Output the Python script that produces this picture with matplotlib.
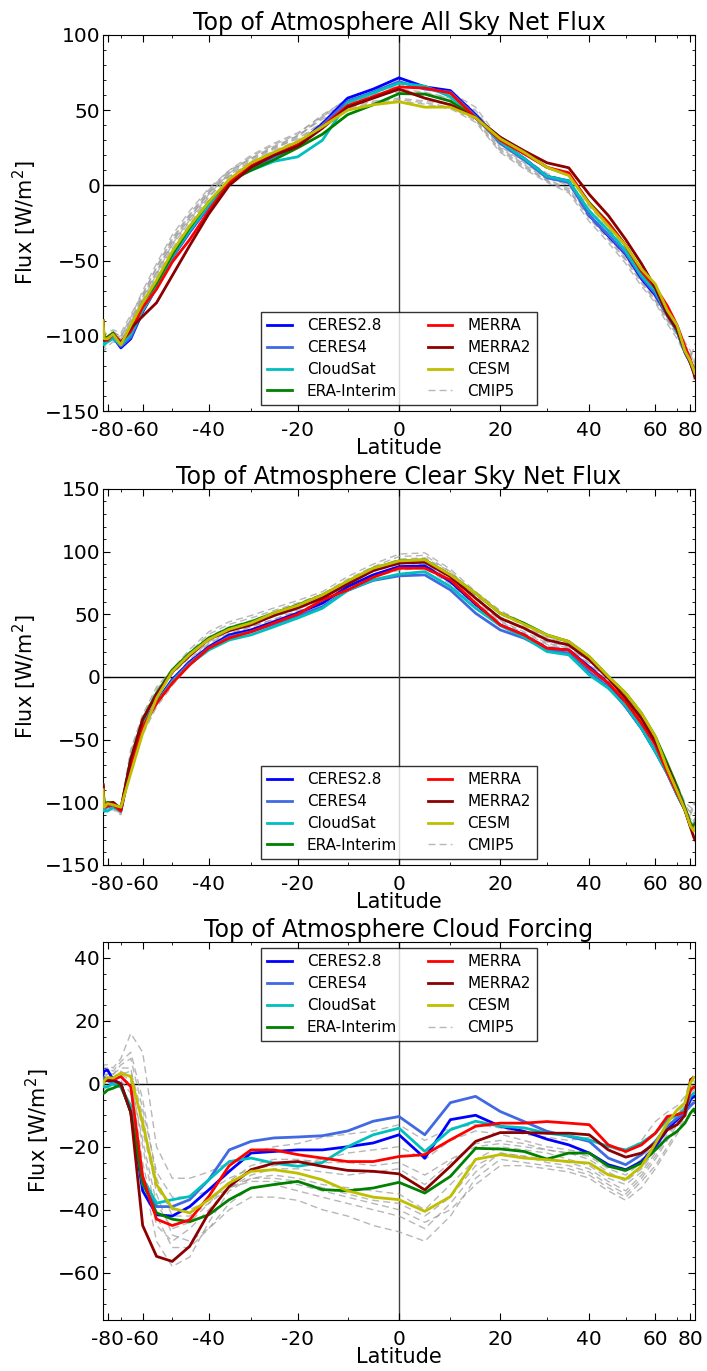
import numpy as np
import matplotlib
matplotlib.use("Agg")
import matplotlib.pyplot as plt

lat = [-89, -85, -80, -75, -70, -65, -60, -55, -50, -45, -40, -35, -30, -25, -20, -15, -10, -5, 0,
       5, 10, 15, 20, 25, 30, 35, 40, 45, 50, 55, 60, 65, 70, 75, 80, 85, 89]

names = ['CERES2.8', 'CERES4', 'CloudSat', 'ERA-Interim', 'MERRA', 'MERRA2', 'CESM']
colors = ['b', 'royalblue', 'c', 'g', 'r', 'darkred', 'y']

# ---- TOA all sky net flux
all_ceres28 = [-92, -104, -103, -101, -108, -102, -84, -68, -48, -31, -14, 3, 11, 20, 27, 41, 58, 64, 71.5,
               65.5, 63, 47, 29, 18, 6, 3, -20, -33.6, -45.7, -62, -73, -86, -97, -111, -118, -124, -126]
all_ceres4 = [-93, -104, -103, -101, -107, -101, -83, -67, -48, -31, -14, 3, 11, 19, 26, 40, 56, 62, 69,
              64, 62, 46, 28, 17, 5, 2, -20, -33, -45, -61, -72, -86, -97, -111, -118, -124, -126]
all_cloudsat = [-95, -106, -104, -102, -106, -99, -83, -68, -47, -30, -13, 3, 10, 16, 19, 30, 55, 61.4, 68,
                66, 59, 45, 29, 18, 6, 3, -17, -30, -43.5, -60, -70, -86, -97, -110, -117, -123, -126]
all_era = [-90, -102, -101, -98, -105, -95, -78, -65, -46, -28, -11, 3, 10, 17, 25, 34, 47, 53.6, 61,
           60.7, 56, 45, 32, 22, 12, 7, -11.5, -24.7, -40, -57, -68, -85, -96, -110, -117, -123, -125]
all_merra = [-90, -103, -103, -99, -104, -97, -81, -69, -51, -36, -17, 2, 13, 20.5, 27, 39, 53, 59, 65.4,
             64.7, 61.4, 45, 30, 21, 12, 8.4, -12, -25, -40, -57, -67.8, -80, -93, -107, -116, -123, -126]
all_merra2 = [-90, -103, -102, -99, -105, -95, -87, -78, -60, -40, -19, 0, 12, 20, 26, 38, 52, 58, 64,
              58, 53.6, 45, 32, 23, 15, 11.7, -6, -20, -36, -52, -68, -86, -96, -110, -118, -125, -128]
all_cesm = [-90, -102, -102, -99, -106, -93, -78, -63, -44, -27, -11, 4, 15, 22, 29, 39, 50, 53.6, 55.6,
            52, 52, 45, 31, 22, 12, 6.6, -12.3, -27, -40, -55.6, -65.6, -83, -93, -110, -117, -123, -125]
all_cmip5 = [
    [-100, -105, -103, -100, -103, -92, -75, -58, -38, -22, -5, 8, 17, 25, 33, 45, 56, 62, 66,
     64, 60, 50, 28, 16, 6, 1, -16, -30, -45, -60, -72, -86, -96, -106, -112, -118, -120],
    [-105, -108, -105, -102, -100, -88, -70, -52, -33, -17, -2, 10, 20, 28, 35, 46, 55, 60, 62,
     60, 57, 46, 25, 14, 4, -2, -20, -34, -48, -63, -75, -88, -98, -108, -115, -120, -122],
    [-98, -100, -98, -96, -98, -86, -72, -55, -36, -20, -4, 9, 18, 26, 33, 44, 52, 56, 58,
     56, 54, 44, 24, 13, 3, -3, -22, -36, -50, -65, -77, -90, -100, -110, -118, -123, -124],
    [-103, -106, -104, -100, -104, -94, -80, -62, -42, -26, -8, 6, 15, 23, 30, 42, 54, 60, 64,
     62, 58, 48, 26, 15, 5, 0, -18, -32, -47, -62, -74, -88, -98, -108, -114, -108, -105],
    [-95, -102, -100, -97, -101, -90, -74, -57, -37, -21, -5, 7, 16, 24, 32, 46, 58, 64, 67,
     65, 62, 52, 30, 18, 8, 2, -14, -28, -42, -58, -70, -84, -94, -104, -110, -115, -118],
    [-108, -110, -107, -104, -106, -95, -78, -60, -40, -24, -7, 6, 14, 21, 28, 40, 50, 54, 56,
     54, 51, 42, 22, 11, 2, -5, -24, -38, -52, -67, -78, -92, -102, -112, -120, -125, -126],
    [-100, -103, -101, -99, -102, -91, -76, -59, -39, -23, -6, 8, 19, 27, 34, 47, 57, 61, 63,
     61, 58, 49, 27, 16, 7, 1, -17, -31, -46, -61, -73, -87, -97, -107, -113, -117, -119],
    [-97, -104, -102, -98, -100, -89, -73, -54, -35, -19, -3, 10, 18, 25, 31, 42, 51, 55, 57,
     55, 52, 43, 23, 12, 3, -4, -21, -35, -49, -64, -76, -89, -99, -109, -116, -121, -123],
]

# ---- TOA clear sky net flux
clr_ceres28 = [-87, -105, -102, -103, -106, -68, -38, -20, -2, 12, 24, 33.5, 37.5, 44, 51, 58.8, 72, 81.4, 88,
               88.6, 76, 58, 41.5, 33.5, 22.9, 21.5, 8, -5, -23.7, -41, -59.6, -77, -94, -106, -119, -122, -118]
clr_ceres4 = [-88, -106, -103, -104, -107, -69, -39, -21, -3, 11, 23, 32, 36, 42, 49, 56, 69, 77, 80.6,
              81.4, 69.4, 50.8, 37.5, 30.9, 21.5, 19, 4, -8, -24, -41, -59, -77, -94, -106, -119, -122, -118]
clr_cloudsat = [-90, -107, -107, -104, -107, -68, -38, -21, -4, 10, 21.5, 29.5, 33.5, 40, 47, 54.8, 69, 77.4, 82,
                84, 72, 54.8, 41, 31.8, 20.2, 17.6, 1.6, -9, -23, -41, -59.6, -77, -94, -106, -119, -122, -118]
clr_era = [-86, -102, -100, -101, -106, -66, -34, -13, 5.6, 19, 31, 39, 44, 51, 57.4, 65.4, 76, 86.7, 92.5,
           93.4, 81.4, 66.8, 50.8, 42.8, 33.5, 28.2, 16.2, 0.3, -13, -29, -47.6, -69, -87.5, -104, -117, -120, -117]
clr_merra = [-88, -104, -103, -102, -107, -70, -40, -21, -5, 9.6, 23, 31, 36, 43, 50, 61.4, 69.4, 79.5, 86.7,
             86.7, 77.4, 58.8, 41.5, 33.5, 22.9, 21.5, 6.9, -5, -20, -37, -54, -76, -93, -106, -119, -122, -120]
clr_merra2 = [-86, -103, -101, -100, -105, -66, -34, -14, 4, 17, 30, 37, 41.5, 49, 55, 63, 74, 84.8, 90.7,
              91.5, 80, 62.8, 46.8, 38.9, 29.5, 25.5, 13.6, -1, -17, -33, -51.6, -71, -90, -106, -120, -128, -130]
clr_cesm = [-90, -104, -101, -102, -104, -77, -45, -17, 4.3, 18, 30, 38, 43, 51, 57, 65.4, 76.5, 86.7, 92.5,
            93.4, 81.4, 66.8, 50.8, 42, 33.5, 28.2, 16.2, 0.3, -13, -29, -47.6, -73, -91, -106, -119, -123, -120]
clr_cmip5 = [
    [-98, -104, -102, -103, -106, -62, -33, -12, 4, 18, 32, 40, 45, 51, 57, 64, 76, 86, 94,
     95, 84, 66, 50, 41, 31, 27, 14, -1, -16, -32, -50, -70, -88, -102, -108, -110, -108],
    [-102, -106, -104, -104, -108, -72, -44, -22, -5, 11, 26, 34, 40, 46, 53, 60, 72, 82, 88,
     90, 78, 60, 45, 36, 27, 23, 8, -6, -22, -38, -56, -76, -92, -106, -112, -115, -112],
    [-95, -100, -99, -100, -103, -58, -30, -8, 6, 22, 36, 44, 49, 55, 61, 68, 80, 90, 98,
     99, 86, 68, 53, 43, 34, 29, 16, 1, -14, -30, -48, -69, -86, -100, -104, -106, -104],
    [-100, -107, -105, -105, -109, -75, -46, -24, -7, 10, 25, 33, 38, 45, 51, 58, 71, 80, 85,
     87, 74, 56, 42, 33, 25, 21, 5, -8, -24, -40, -58, -78, -94, -107, -115, -118, -115],
    [-97, -103, -101, -102, -105, -65, -36, -15, 2, 16, 30, 38, 43, 49, 56, 63, 75, 85, 91,
     92, 81, 63, 48, 39, 29, 25, 11, -3, -18, -34, -52, -72, -90, -104, -110, -104, -100],
    [-104, -108, -106, -106, -110, -70, -40, -18, -2, 14, 28, 36, 42, 48, 54, 62, 74, 84, 90,
     93, 82, 64, 47, 38, 28, 24, 10, -4, -19, -35, -53, -73, -90, -104, -114, -117, -114],
    [-99, -105, -103, -101, -107, -60, -32, -10, 5, 20, 34, 42, 47, 53, 59, 66, 78, 88, 96,
     97, 84, 65, 51, 42, 32, 28, 15, 0, -15, -31, -49, -70, -88, -103, -108, -100, -102],
    [-101, -106, -104, -104, -106, -68, -42, -20, -3, 13, 27, 35, 40, 46, 52, 59, 72, 81, 86,
     88, 76, 58, 44, 35, 26, 22, 7, -7, -23, -39, -57, -77, -93, -106, -113, -116, -113],
]

# ---- TOA cloud forcing
cf_ceres28 = [3, 4, 4.4, 1.3, 0, -9, -34, -41.6, -42, -39, -33.7, -27.8, -22, -21.5, -21, -21, -20, -18.8, -16.2,
              -23.6, -11.4, -10, -13.5, -15.1, -17.6, -19.4, -22, -25.7, -27.3, -24.7, -19.9, -14.6, -11.4, -9, -5, -4, -4]
cf_ceres4 = [1, 2, 1, 0, -1, -8, -32, -39, -39, -36.8, -30.5, -21, -18.3, -17.2, -16.9, -16.5, -15, -11.9, -10.4,
             -16.2, -6, -4, -8.8, -12, -15.1, -16.7, -18.3, -23.6, -25.7, -22.5, -18.3, -13.5, -10.9, -9, -7, -6, -6]
cf_cloudsat = [0, -1, -1, 0, -1, -7, -30, -37.9, -36.8, -35.8, -30.5, -24.7, -23.6, -25.2, -26.2, -25, -20, -16.2, -14.1,
               -21.5, -14.6, -11.9, -13.5, -14, -15.7, -16.5, -17.8, -19.9, -21, -18.8, -15.7, -11.4, -10, -8, -4, -3, -3]
cf_era = [-3, -3, -2, -1.4, -0.3, -9, -31.5, -41, -43, -43.8, -41.6, -36.8, -33.1, -32, -31, -33.6, -34, -33.1, -31.3,
          -34.7, -29.4, -20.5, -20.7, -21.5, -23.9, -22, -22, -26.2, -27.5, -25.2, -21, -17.2, -15.1, -12.5, -9.3, -8, -9]
cf_merra = [1, 1, 1, 1.3, 2.3, -0.9, -29.4, -43, -45, -43.2, -35.8, -26, -21, -21, -22.5, -23.6, -24.7, -24.7, -23.1,
            -22.5, -17.8, -13.5, -12.5, -12.5, -12, -12.5, -13, -19.4, -21.5, -19.4, -15.7, -10.4, -9.8, -9, -2, -1, -1]
cf_merra2 = [1, 1, 1, 1, 0, -9, -45, -54.8, -56.4, -51.6, -41, -32.6, -27.3, -25.2, -24.7, -26.2, -27.5, -27.8, -28.6,
             -33.7, -26.2, -18.3, -15.5, -15.5, -15.7, -15.7, -16.2, -21, -23.3, -22, -18.8, -14.6, -13, -10, 1.3, 2, 2]
cf_cesm = [0, 1, 2, 1.8, 3.4, 2.3, -12.5, -32, -39.5, -41, -36.8, -31.5, -27.8, -27.3, -28.4, -30.5, -34, -36, -36.8,
           -40.5, -35.8, -24, -22.5, -23.6, -24.1, -24.7, -25.2, -28.9, -30.3, -26.2, -19, -12.5, -8.3, -6.1, 0.4, 2, 2]
cf_cmip5 = [
    [5, 6, 6, 5, 8, 16, 10, -20, -30, -30, -28, -25, -22, -20, -19, -17, -16, -15, -13,
     -18, -14, -13, -14, -16, -17, -18, -17, -20, -22, -18, -12, -9, -7, -4, 1, 3, 2],
    [0, 0, 1, 2, 3, 4, -10, -35, -48, -50, -46, -40, -36, -36, -37, -40, -42, -45, -47,
     -50, -42, -30, -24, -25, -26, -27, -29, -33, -36, -31, -26, -20, -15, -10, -5, -4, -5],
    [2, 3, 3, 2, 4, 2, -20, -42, -52, -52, -46, -38, -33, -32, -34, -36, -38, -40, -42,
     -46, -38, -28, -22, -23, -24, -25, -27, -31, -34, -29, -23, -17, -12, -8, -3, -2, -3],
    [-2, -2, 0, 1, 1, -3, -28, -50, -58, -55, -44, -34, -30, -29, -30, -32, -33, -34, -35,
     -40, -32, -24, -20, -21, -22, -24, -26, -30, -32, -28, -22, -16, -12, -7, -2, -1, -2],
    [3, 4, 4, 3, 6, 8, -8, -28, -36, -36, -34, -30, -27, -26, -25, -24, -22, -21, -20,
     -24, -18, -15, -16, -18, -20, -21, -22, -26, -28, -24, -18, -13, -9, -5, 0, 1, 0],
    [1, 1, 2, 1, 2, 0, -25, -45, -50, -46, -40, -33, -29, -27, -27, -28, -29, -28, -27,
     -32, -25, -19, -18, -19, -21, -22, -23, -27, -29, -25, -20, -14, -10, -6, -1, 0, -1],
    [4, 5, 5, 4, 7, 10, -5, -30, -42, -42, -38, -33, -30, -30, -31, -33, -35, -37, -38,
     -42, -36, -26, -22, -23, -25, -26, -28, -32, -35, -30, -24, -18, -13, -9, -4, -3, -4],
    [0, 1, 2, 2, 3, 1, -18, -38, -46, -44, -38, -31, -26, -24, -24, -25, -25, -26, -25,
     -29, -24, -20, -19, -20, -21, -22, -24, -28, -31, -27, -21, -15, -11, -7, -2, -1, -2],
    [2, 2, 3, 3, 5, 5, -15, -33, -40, -40, -37, -33, -31, -31, -32, -34, -36, -38, -40,
     -44, -40, -32, -26, -26, -27, -28, -30, -34, -37, -33, -27, -21, -16, -11, -6, -5, -6],
]

panels = [
    ('Top of Atmosphere All Sky Net Flux',
     [all_ceres28, all_ceres4, all_cloudsat, all_era, all_merra, all_merra2, all_cesm], all_cmip5,
     (-150, 100), 50, 10, 'lower center'),
    ('Top of Atmosphere Clear Sky Net Flux',
     [clr_ceres28, clr_ceres4, clr_cloudsat, clr_era, clr_merra, clr_merra2, clr_cesm], clr_cmip5,
     (-150, 150), 50, 10, 'lower center'),
    ('Top of Atmosphere Cloud Forcing',
     [cf_ceres28, cf_ceres4, cf_cloudsat, cf_era, cf_merra, cf_merra2, cf_cesm], cf_cmip5,
     (-75, 45), 20, 5, 'upper center'),
]


def fwd(x):
    return np.sin(np.deg2rad(x))


def inv(s):
    return np.rad2deg(np.arcsin(np.clip(s, -1, 1)))


fig = plt.figure(figsize=(7.07, 13.71), dpi=100)
rects = [[0.1457, 0.7002, 0.8373, 0.2743],
         [0.1457, 0.3691, 0.8373, 0.2743],
         [0.1457, 0.0372, 0.8373, 0.2757]]

xt = [-80, -60, -40, -20, 0, 20, 40, 60, 80]
xminor = [-90, -70, -50, -30, -10, 10, 30, 50, 70, 90]

for rect, (title, series, cmip, ylim, ymaj, ymin, legloc) in zip(rects, panels):
    ax = fig.add_axes(rect)
    ax.set_xscale('function', functions=(fwd, inv))
    for k, c in enumerate(cmip):
        ax.plot(lat, c, color='0.6', lw=1, ls='--', dashes=(5, 3), alpha=0.7,
                label='CMIP5' if k == 0 else None, zorder=2)
    for s, nm, col in zip(series, names, colors):
        ax.plot(lat, s, color=col, lw=2, label=nm, zorder=3)
    ax.axhline(0, color='k', lw=1, zorder=1)
    ax.axvline(0, color='0.25', lw=1, zorder=1)
    ax.set_xlim(-90, 90)
    ax.set_xticks(xt)
    ax.set_xticklabels([str(t) for t in xt])
    ax.set_xticks(xminor, minor=True)
    ax.set_yticks(np.arange(ylim[0] - ylim[0] % ymaj, ylim[1] + 1, ymaj))
    ax.set_yticks(np.arange(ylim[0] - ylim[0] % ymin, ylim[1] + 1, ymin), minor=True)
    ax.set_ylim(*ylim)
    ax.tick_params(which='both', direction='in', top=True, right=True, labelsize=14.5)
    ax.tick_params(axis='y', which='major', pad=2)
    ax.tick_params(axis='x', which='major', pad=7)
    ax.tick_params(which='major', length=5)
    ax.tick_params(which='minor', length=2.5)
    ax.set_title(title, fontsize=17, pad=3)
    ax.set_xlabel('Latitude', fontsize=15, labelpad=-1)
    ax.set_ylabel('Flux [W/m$^2$]', fontsize=15)

    h, l = ax.get_legend_handles_labels()
    order = [l.index(n) for n in names] + [l.index('CMIP5')]
    leg = ax.legend([h[i] for i in order], [l[i] for i in order], loc=legloc, ncol=2,
                    fontsize=11, frameon=True, fancybox=False, handlelength=1.6,
                    handletextpad=1.0, columnspacing=2.0, labelspacing=0.45,
                    borderaxespad=0.4)
    leg.get_frame().set_edgecolor('k')
    leg.get_frame().set_linewidth(1)

fig.savefig('out.png', dpi=100)
